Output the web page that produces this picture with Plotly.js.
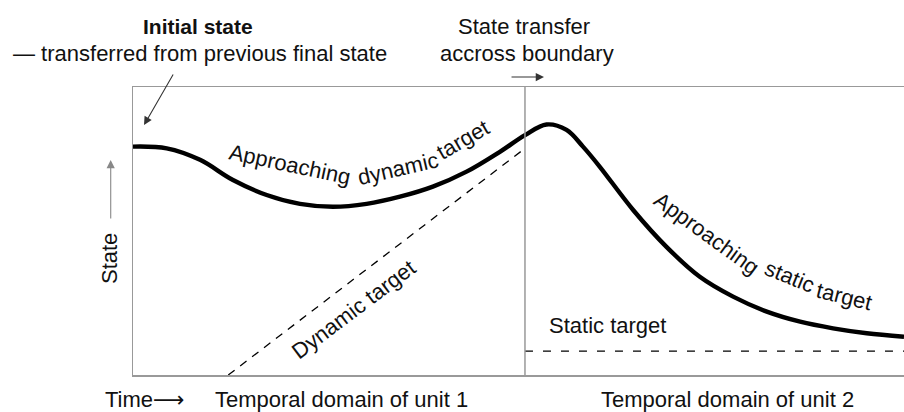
<!DOCTYPE html>
<html>
<head>
<meta charset="utf-8">
<script src="https://cdn.plot.ly/plotly-3.0.1.min.js"></script>
<style>html,body{margin:0;padding:0;overflow:hidden;background:#fff}</style>
</head>
<body>
<div id="chart" style="width:904px;height:412px"></div>
<script>
// State trajectory (unit 1: x 0..100, unit 2: x 100..196.7)
const stateX = [0, 8.6, 17.1, 25.5, 34.1, 42.6, 51.0, 59.6, 68.1, 76.5, 85.1, 93.6, 100, 105.5, 110.6, 114.8, 119.1, 127.6, 136.1, 144.6, 153.1, 161.7, 170.2, 178.6, 187.2, 196.7];
const stateY = [79.3, 78.7, 74.7, 67.7, 62.5, 59.4, 58.4, 59.4, 61.9, 65.4, 70.6, 77.5, 83.3, 87.0, 85.1, 79.3, 72.3, 57.3, 44.5, 34.1, 27.2, 22.0, 18.5, 16.2, 14.5, 13.3];
// Dynamic target (unit 1)
const dynX = [24.3, 100];
const dynY = [0, 78.7];
// Static target (unit 2)
const statX = [100, 196.7];
const statY = [8.3, 8.3];
const boundaryX = 100;

const FONT = 'Liberation Sans, Arial, sans-serif';
const TXT = '#111';

const traces = [
  {x: stateX, y: stateY, mode: 'lines', line: {color: '#000', width: 4.4, shape: 'spline', smoothing: 1}, hoverinfo: 'skip'},
  {x: dynX, y: dynY, mode: 'lines', line: {color: '#000', width: 1.3, dash: '8px,7px'}, hoverinfo: 'skip'},
  {x: statX, y: statY, mode: 'lines', line: {color: '#000', width: 1.3, dash: '8px,10px'}, hoverinfo: 'skip'}
];

function lab(text, x, y, opts) {
  return Object.assign({text: text, x: x, y: y, xref: 'paper', yref: 'paper', showarrow: false,
    xanchor: 'center', yanchor: 'middle', font: {family: FONT, size: 22, color: TXT}}, opts || {});
}
function arrow(x, y, ax, ay, color) {
  return {text: '', x: x, y: y, xref: 'paper', yref: 'paper', showarrow: true, ax: ax, ay: ay,
    arrowhead: 2, arrowsize: 1.5, arrowwidth: 1.1, arrowcolor: color, standoff: 0, startstandoff: 0};
}

const BOT = -0.0851;
const annotations = [
  lab('<b>Initial state</b>', 0.0843, 1.209, {font: {family: FONT, size: 21, color: TXT}}),
  lab('— transferred from previous final state', 0.087, 1.116),
  lab('State transfer', 0.507, 1.209),
  lab('accross boundary', 0.511, 1.118),
  lab('Time<span style="font-family:DejaVu Sans">⟶</span>', -0.0389, BOT, {xanchor: 'left'}),
  lab('Temporal domain of unit 1', 0.2698, BOT),
  lab('Temporal domain of unit 2', 0.7711, BOT),
  lab('State', -0.0298, 0.4028, {textangle: -90}),
  lab('Static target', 0.6154, 0.1736),
  lab('Dynamic target', 0.2866, 0.2257, {textangle: -37}),
  lab('Approaching', 0.2032, 0.7292, {textangle: 12}),
  lab('dynamic', 0.3443, 0.7177, {textangle: -13}),
  lab('target', 0.4284, 0.8160, {textangle: -30}),
  lab('Approaching', 0.7441, 0.4920, {textangle: 36}),
  lab('static', 0.8515, 0.3413, {textangle: 22}),
  lab('target', 0.9226, 0.2719, {textangle: 14}),
  arrow(0.01427, 0.868, 30, -52, '#333'),
  arrow(0.5331, 1.0347, -34, 0, '#333'),
  arrow(-0.0289, 0.7465, 0, 60, '#888')
];

const axisCommon = {showgrid: false, zeroline: false, showticklabels: false, ticks: '', fixedrange: true};

const layout = {
  width: 904, height: 412,
  margin: {l: 133, r: 0, t: 87, b: 37},
  paper_bgcolor: '#fff', plot_bgcolor: '#fff',
  showlegend: false,
  xaxis: Object.assign({range: [0, 196.7], showline: true, mirror: true, linecolor: '#999', linewidth: 1.5}, axisCommon),
  yaxis: Object.assign({range: [0, 100], showline: true, mirror: false, linecolor: '#999', linewidth: 1.5}, axisCommon),
  shapes: [
    {type: 'line', xref: 'x', yref: 'paper', x0: boundaryX, x1: boundaryX, y0: 0, y1: 1, line: {color: '#999', width: 1.5}}
  ],
  annotations: annotations
};

Plotly.newPlot('chart', traces, layout, {staticPlot: true, displayModeBar: false});
</script>
</body>
</html>
